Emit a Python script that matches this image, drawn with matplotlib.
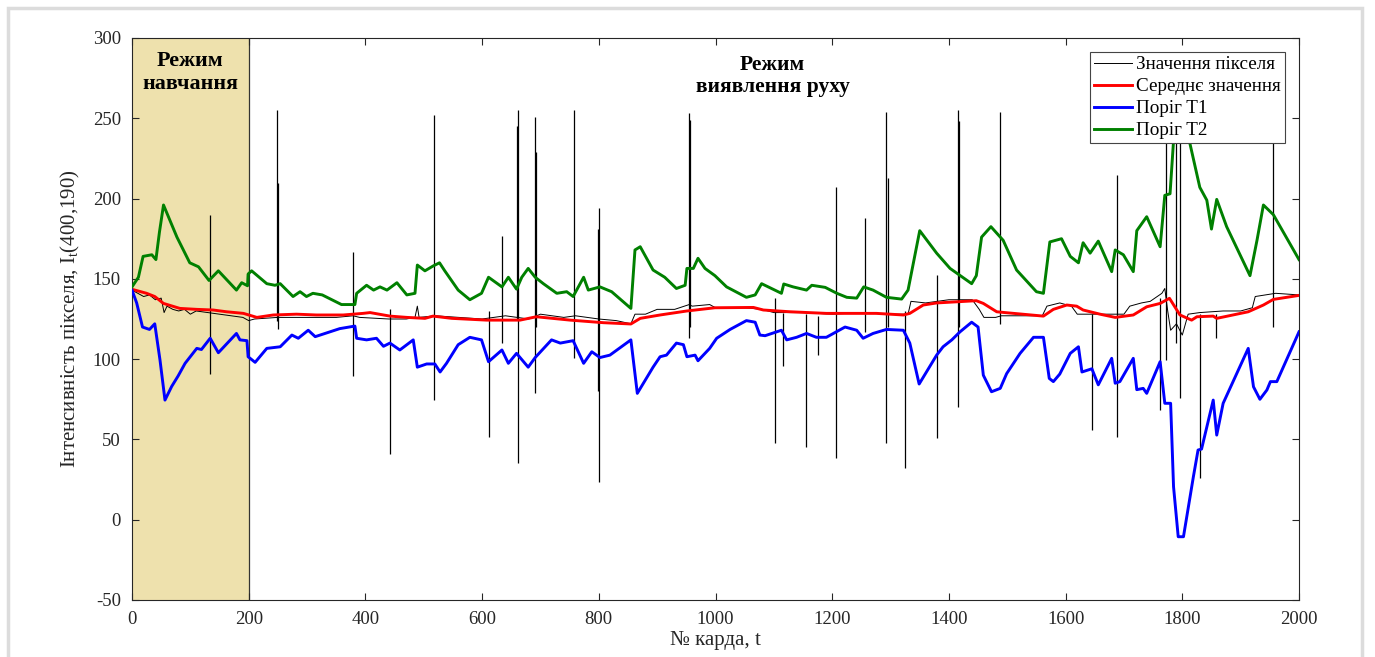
import numpy as np
import matplotlib
matplotlib.use("Agg")
import matplotlib.pyplot as plt
from matplotlib.patches import Rectangle

plt.rcParams['font.family'] = ['Liberation Serif', 'DejaVu Serif']
plt.rcParams['mathtext.fontset'] = 'custom'
plt.rcParams['mathtext.rm'] = 'Liberation Serif'
plt.rcParams['mathtext.it'] = 'Liberation Serif:italic'
plt.rcParams['axes.unicode_minus'] = False

# ---------------- data ----------------
# Threshold T2 (green) : (frame, value)
T2 = np.array([
    (0, 145), (11, 151), (19, 164), (34, 165), (41, 162), (47, 179), (54, 196), (77, 176),
    (99, 160), (114, 157.5), (132, 149), (148, 155), (179, 143), (188, 147.6), (198, 145.7),
    (199, 153), (205, 155), (231, 147), (245, 146), (254, 147), (276, 139), (288, 142),
    (299, 139), (310, 141), (326, 140), (359, 134), (382, 134), (385, 141), (402, 146),
    (414, 143), (425, 145), (437, 143), (454, 147.6), (471, 140), (485, 141), (489, 158.6),
    (502, 155), (516, 158), (527, 160), (536, 155), (559, 143), (579, 137), (599, 141),
    (611, 151), (634, 145), (645, 151), (659, 143.6), (668, 151), (679, 156.5), (691, 151),
    (705, 147), (728, 141), (745, 142), (756, 139), (774, 151), (782, 143), (802, 145),
    (822, 142), (855, 131.6), (862, 168), (871, 170), (893, 155.5), (913, 151), (933, 144),
    (948, 146), (951, 156.5), (962, 156.5), (970, 162.8), (982, 156.5), (999, 152),
    (1019, 145), (1053, 138.5), (1068, 140), (1079, 147), (1113, 141), (1117, 146.8),
    (1133, 145), (1156, 143), (1165, 146), (1188, 144.7), (1208, 141), (1225, 138.5),
    (1242, 138), (1254, 145), (1270, 143), (1293, 138.5), (1319, 137.4), (1330, 143),
    (1350, 180), (1379, 166), (1402, 156.5), (1439, 147), (1447, 152), (1456, 176),
    (1472, 182.5), (1493, 174), (1516, 155.5), (1550, 142), (1562, 141), (1573, 173),
    (1593, 175), (1608, 164), (1622, 160), (1630, 172.5), (1642, 166), (1656, 173.5),
    (1679, 154.5), (1685, 168), (1699, 165), (1716, 154.5), (1722, 180), (1739, 188.7),
    (1762, 170), (1770, 202), (1779, 203), (1785, 236), (1797, 275), (1812, 236),
    (1830, 207), (1842, 199), (1850, 181), (1859, 199.5), (1876, 182.5), (1916, 152),
    (1928, 174), (1939, 196), (1956, 190), (2000, 162)])
t2_frames, t2_values = T2.T

# Threshold T1 (blue)
T1 = np.array([
    (0, 143), (8, 135), (18, 120), (30, 118.5), (39, 122), (48, 99.4), (56.5, 74.5), (68, 83),
    (79, 89.5), (91, 97.4), (111, 106.7), (119, 106), (134, 113), (148, 104), (179, 116),
    (185, 112), (197, 111.5), (199, 101.5), (211, 98), (231, 106.7), (254, 107.7), (274, 115),
    (285, 113), (302, 118), (314, 114), (356, 119), (382, 120.6), (385, 113), (402, 112),
    (419, 113), (431, 108), (442, 110), (459, 105.7), (482, 112), (489, 95), (505, 97),
    (519, 97), (528, 92), (539, 97.4), (559, 109), (579, 113.6), (599, 112), (611, 98.4),
    (634, 105.7), (645, 97.4), (659, 103.6), (679, 95), (691, 101), (719, 112), (734, 110),
    (756, 111.5), (774, 97.4), (788, 104.6), (802, 101), (819, 102.5), (855, 112), (866, 78.7),
    (893, 95), (905, 101.5), (916, 102.5), (933, 110), (945, 109), (951, 101.5), (965, 102.5),
    (970, 99), (990, 106.7), (1002, 113), (1025, 118.5), (1053, 124), (1068, 123), (1076, 115),
    (1085, 114.6), (1113, 118), (1122, 112), (1139, 113.6), (1156, 116), (1173, 113.6),
    (1190, 113.6), (1222, 120), (1242, 118), (1253, 113), (1270, 116), (1293, 118.5),
    (1322, 118), (1333, 110), (1349, 84.5), (1379, 102.5), (1390, 107.7), (1405, 112),
    (1419, 117), (1439, 123), (1450, 120), (1459, 90), (1473, 79.7), (1488, 81.8), (1499, 91),
    (1522, 103.6), (1545, 113.6), (1562, 113.6), (1572, 88), (1579, 86), (1590, 90.7),
    (1608, 103.6), (1622, 107.7), (1628, 92), (1645, 94), (1656, 84), (1679, 100.5), (1685, 85),
    (1693, 86), (1716, 100.5), (1722, 81), (1733, 81.8), (1739, 78.7), (1762, 98.4),
    (1770, 72.5), (1780, 72.5), (1785, 20.5), (1793, -10.6), (1802, -10.6), (1819, 26.8),
    (1827, 43.4), (1833, 44), (1853, 74.5), (1859, 52.7), (1870, 72.5), (1913, 106.7),
    (1922, 82.8), (1933, 75), (1945, 80.8), (1951, 86), (1962, 86), (2000, 117)])
t1_frames, t1_values = T1.T

# Mean value (red)
MEAN = np.array([
    (0, 143.5), (25, 141), (39, 139), (54, 134.7), (82, 131.6), (111, 131), (139, 130.6),
    (162, 129.5), (191, 128.5), (214, 126), (242, 127.5), (282, 128), (316, 127.5),
    (362, 127.5), (396, 128.5), (408, 129), (442, 126.8), (471, 126), (502, 125.4),
    (516, 126.8), (548, 125.4), (608, 124.3), (665, 124.3), (693, 126.4), (751, 124.3),
    (808, 122.7), (855, 121.9), (871, 125.4), (905, 127.5), (951, 130), (999, 132),
    (1065, 132.2), (1082, 130.6), (1128, 129.5), (1190, 128.5), (1276, 128.5), (1322, 127.5),
    (1333, 128.5), (1356, 133.7), (1379, 135), (1447, 136.4), (1459, 134.7), (1482, 129.5),
    (1496, 129), (1562, 126.8), (1579, 131), (1602, 133.7), (1619, 133), (1630, 130.6),
    (1659, 128), (1685, 126), (1716, 127.5), (1739, 132.6), (1762, 134.7), (1778, 137.9),
    (1796, 127.5), (1816, 124.3), (1825, 126.4), (1853, 126.8), (1859, 125.4), (1913, 129.5),
    (1939, 133.7), (1956, 137.2), (2000, 139.7)])
mean_frames, mean_values = MEAN.T

# Pixel value (black): slowly varying level ...
PIX = np.array([
    (0, 143), (10, 141), (20, 139), (30, 140), (40, 137), (50, 138), (55, 129), (60, 133),
    (70, 131), (80, 130), (90, 131), (100, 128), (110, 130), (130, 129), (150, 128),
    (170, 127), (190, 126), (200, 124), (210, 125), (250, 126), (300, 126), (350, 126),
    (379, 127), (390, 126), (440, 125), (470, 125), (485, 126), (489, 133), (492, 126),
    (520, 127), (560, 126), (600, 125), (640, 127), (680, 125), (700, 128), (740, 126),
    (760, 127), (800, 125), (830, 124), (855, 122), (862, 128), (880, 128), (900, 131),
    (930, 131), (955, 134), (960, 133), (990, 134), (1000, 132), (1050, 132), (1080, 131),
    (1100, 129), (1150, 129), (1200, 128), (1250, 129), (1290, 128), (1330, 128), (1335, 136),
    (1360, 135), (1380, 136), (1400, 137), (1440, 137), (1452, 131), (1460, 126), (1480, 126),
    (1490, 127), (1560, 127), (1568, 133), (1590, 135), (1610, 133), (1620, 128), (1680, 128),
    (1700, 128), (1710, 133), (1730, 135), (1745, 136), (1765, 141), (1770, 144), (1775, 130),
    (1780, 118), (1790, 122), (1800, 115), (1810, 128), (1830, 129), (1870, 130), (1900, 130),
    (1920, 132), (1925, 139), (1960, 141), (2000, 140)])
pix_frames, pix_values = PIX.T

# ... and short spikes: (frame, max, min)
SPIKES = np.array([
    (134, 190, 90.5), (249, 255, 124), (251, 209.5, 118.7), (379, 167, 89.5), (442, 131, 41),
    (517, 252, 74.5), (612, 130, 51.7), (634, 177, 110), (660, 245, 125), (661, 255, 35.5),
    (691, 250.5, 78.7), (693, 229, 120), (757, 255, 100.5), (798, 181, 80), (800, 194, 23.7),
    (955, 253, 113), (957, 249, 120), (1102, 138, 47.6), (1116, 129, 96), (1155, 128, 45.5),
    (1175, 127, 102.5), (1206, 207, 38.2), (1257, 188, 117), (1293, 254, 47.6),
    (1295, 212.6, 120), (1325, 130, 32), (1379, 152.4, 50.7), (1415, 255, 70.4),
    (1417, 248, 120), (1487, 254, 122), (1646, 128, 55.9), (1688, 214.6, 51.7),
    (1762, 138, 68.3), (1772, 240, 99.4), (1790, 240, 110), (1796, 235, 75.6),
    (1831, 128, 25.8), (1857, 128, 113), (1955, 240, 120)])
spike_frames, spike_max, spike_min = SPIKES.T

training_end = 200
x_ticks = list(range(0, 2001, 200))
y_ticks = list(range(-50, 301, 50))
labels = ['Значення пікселя', 'Середнє значення', 'Поріг T1', 'Поріг T2']

# ---------------- figure ----------------
fig = plt.figure(figsize=(13.75, 6.57), dpi=100)
ax = fig.add_axes([132/1375, 1-600/657, 1167/1375, 562/657])

ax.axvspan(0, training_end, facecolor='#EEE1AD', edgecolor='none', zorder=0)
ax.axvline(training_end, color='#333333', lw=0.9, zorder=1)

l0, = ax.plot(pix_frames, pix_values, color='black', lw=0.7, zorder=3)
ax.vlines(spike_frames, spike_min, spike_max, color='black', lw=0.9, zorder=3)
l1, = ax.plot(mean_frames, mean_values, color='#ff0000', lw=2.1, zorder=4)
l2, = ax.plot(t1_frames, t1_values, color='#0000ff', lw=2.1, zorder=4)
l3, = ax.plot(t2_frames, t2_values, color='#008000', lw=2.1, zorder=4)

ax.set_xlim(0, 2000)
ax.set_ylim(-50, 300)
ax.set_xticks(x_ticks)
ax.set_yticks(y_ticks)
ax.tick_params(direction='in', top=True, right=True, length=5, width=0.8,
               labelsize=13.5, colors='#262626', pad=8)
for s in ax.spines.values():
    s.set_color('#262626')
    s.set_linewidth(0.8)

ax.set_xlabel('№ карда, t', fontsize=15, color='#262626', labelpad=2)
ax.set_ylabel('Інтенсивність пікселя, I$_\\mathrm{t}$(400,190)', fontsize=15,
              color='#262626', labelpad=8)

ax.text(100, 278.5, 'Режим\nнавчання', ha='center', va='center', fontsize=15.8,
        fontweight='bold', linespacing=1.15, zorder=6)
ax.text(1098, 276.5, 'Режим\nвиявлення руху', ha='center', va='center', fontsize=15.5,
        fontweight='bold', linespacing=1.15, zorder=6)

leg = ax.legend([l0, l1, l2, l3], labels, loc='upper right',
                bbox_to_anchor=(0.988, 0.975), borderaxespad=0, fontsize=13.8,
                frameon=True, fancybox=False, framealpha=1, edgecolor='#444444',
                handlelength=1.95, handletextpad=0.25, labelspacing=0.24,
                borderpad=0.2)
leg.get_frame().set_linewidth(0.8)
leg.set_zorder(10)

fig.patches.append(Rectangle((8/1375, -0.05), (1362-8)/1375, 1.05 - 8/657,
                             transform=fig.transFigure, fill=False,
                             edgecolor='#dcdcdc', lw=2.5))

fig.savefig('out.png', dpi=100)
